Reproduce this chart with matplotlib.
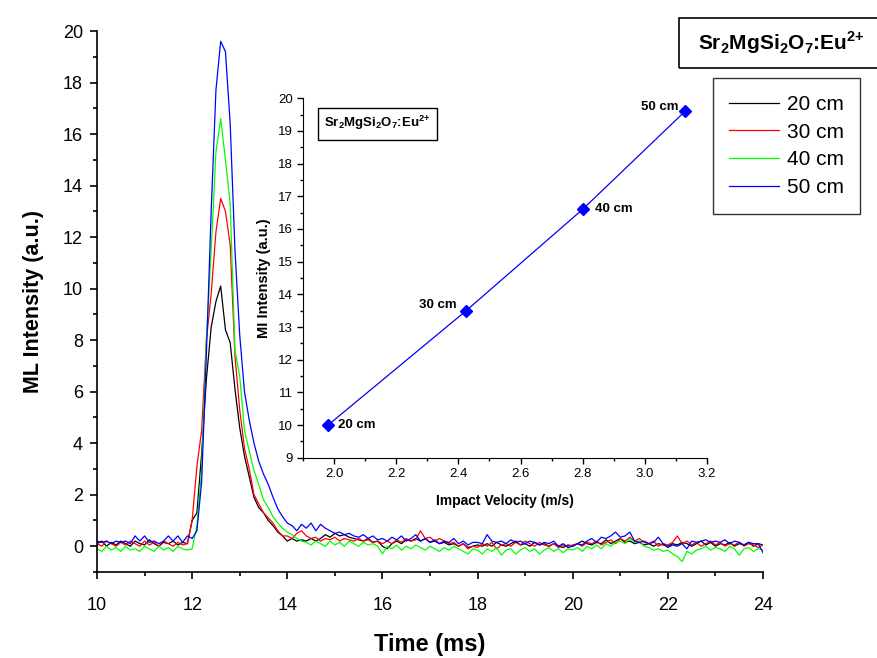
import numpy as np
import matplotlib
matplotlib.use("Agg")
import matplotlib.pyplot as plt
from matplotlib.patches import Rectangle
from matplotlib.ticker import MultipleLocator

plt.rcParams["font.family"] = ["Liberation Sans", "DejaVu Sans"]
plt.rcParams["mathtext.fontset"] = "custom"
plt.rcParams["mathtext.rm"] = "Liberation Sans"
plt.rcParams["mathtext.bf"] = "Liberation Sans:bold"

# ---- data: ML intensity vs time, sampled every 0.1 ms from 10 to 24 ms ----
time_ms = np.linspace(10, 24, 141)
heights = ["20 cm", "30 cm", "40 cm", "50 cm"]

ml_20cm = [
    0.1, 0.2, 0.0, 0.15, 0.05, 0.2, 0.1, 0.0, 0.2, 0.1,        # 10
    0.05, 0.25, 0.1, 0.0, 0.15, 0.1, 0.2, 0.05, 0.15, 0.1,     # 11
    1.0, 1.3, 3.6, 6.5, 8.5, 9.5, 10.1, 8.4, 7.9, 6.1,         # 12
    4.6, 3.5, 2.7, 1.9, 1.5, 1.3, 1.0, 0.8, 0.55, 0.4,         # 13
    0.2, 0.3, 0.2, 0.25, 0.2, 0.3, 0.2, 0.3, 0.45, 0.35,       # 14
    0.5, 0.4, 0.45, 0.35, 0.3, 0.25, 0.2, 0.3, 0.15, 0.2,      # 15
    0.0, -0.1, 0.1, 0.2, 0.1, 0.25, 0.2, 0.3, 0.2, 0.3,        # 16
    0.15, 0.2, 0.1, 0.15, 0.05, 0.1, 0.0, 0.1, -0.05, 0.0,     # 17
    0.05, 0.0, 0.1, 0.0, 0.15, 0.05, 0.0, 0.1, 0.2, 0.05,      # 18
    0.1, 0.0, 0.15, 0.05, 0.1, 0.0, 0.1, 0.0, -0.05, 0.05,     # 19
    0.0, 0.1, 0.2, 0.1, 0.05, 0.15, 0.1, 0.25, 0.1, 0.2,       # 20
    0.3, 0.15, 0.2, 0.1, 0.15, 0.05, 0.1, 0.0, 0.1, 0.05,      # 21
    0.0, 0.1, 0.05, 0.15, 0.1, 0.0, 0.1, 0.2, 0.05, 0.15,      # 22
    0.0, 0.1, 0.05, 0.15, 0.0, 0.1, 0.05, 0.15, 0.0, 0.1,      # 23
    0.05,
]
ml_30cm = [
    0.1, 0.0, 0.2, 0.1, 0.0, 0.15, 0.05, 0.2, 0.1, 0.0,
    0.2, 0.05, 0.15, 0.0, 0.2, 0.1, 0.0, 0.15, 0.05, 0.1,
    1.0, 3.1, 4.5, 8.0, 9.8, 12.2, 13.5, 13.0, 11.7, 7.4,
    5.3, 3.8, 3.0, 2.0, 1.65, 1.3, 1.1, 0.9, 0.6, 0.4,
    0.4, 0.3, 0.5, 0.6, 0.4, 0.3, 0.35, 0.2, 0.3, 0.25,
    0.35, 0.2, 0.3, 0.25, 0.2, 0.3, 0.2, 0.25, 0.15, 0.2,
    0.1, 0.2, 0.1, 0.25, 0.15, 0.3, 0.2, 0.25, 0.6, 0.3,
    0.35, 0.2, 0.3, 0.2, 0.1, 0.15, 0.0, 0.1, -0.1, 0.0,
    -0.05, 0.1, 0.0, 0.15, -0.1, 0.05, 0.1, 0.0, 0.15, 0.05,
    0.2, 0.1, 0.0, 0.15, 0.05, 0.0, 0.1, -0.05, 0.05, 0.0,
    0.05, 0.1, 0.0, 0.15, 0.1, 0.2, 0.05, 0.15, 0.25, 0.1,
    0.3, 0.2, 0.35, 0.2, 0.3, 0.15, 0.1, 0.2, 0.0, 0.1,
    0.05, 0.15, 0.4, 0.1, 0.2, 0.05, 0.15, 0.0, 0.1, 0.2,
    0.05, 0.15, 0.0, 0.1, 0.05, 0.15, 0.0, 0.1, 0.05, -0.05,
    0.05,
]
ml_40cm = [
    -0.1, -0.2, 0.0, -0.15, -0.05, -0.2, 0.0, -0.15, -0.1, -0.2,
    0.0, -0.1, -0.2, 0.0, -0.15, -0.05, -0.2, 0.0, -0.1, -0.15,
    -0.1, 0.8, 3.0, 8.0, 11.5, 15.3, 16.6, 15.0, 13.3, 7.6,
    6.6, 4.5, 3.7, 2.95, 2.4, 1.8, 1.5, 1.15, 0.9, 0.7,
    0.55, 0.45, 0.3, 0.2, 0.15, 0.05, 0.2, 0.1, 0.0, 0.2,
    0.05, 0.15, 0.0, 0.2, 0.1, 0.0, 0.15, 0.05, 0.1, 0.0,
    -0.3, 0.0, -0.1, 0.05, -0.15, 0.0, -0.1, 0.05, -0.05, -0.15,
    0.0, -0.1, -0.2, -0.05, -0.15, 0.0, -0.1, -0.2, -0.3, -0.1,
    -0.15, -0.3, -0.1, -0.2, -0.05, -0.35, -0.15, -0.1, -0.3, -0.15,
    -0.05, -0.2, -0.1, -0.3, -0.15, -0.05, -0.2, -0.1, -0.25, -0.1,
    -0.15, -0.05, -0.2, 0.0, -0.1, 0.05, -0.1, 0.1, 0.0, 0.15,
    0.2, 0.1, 0.3, 0.15, 0.2, 0.0, -0.05, -0.15, -0.1, -0.2,
    -0.15, -0.3, -0.4, -0.6, -0.2, -0.3, -0.15, -0.1, 0.0, -0.15,
    -0.05, -0.1, -0.2, 0.0, -0.1, -0.35, -0.1, -0.05, -0.2, -0.1,
    -0.15,
]
ml_50cm = [
    0.2, 0.15, 0.2, 0.1, 0.2, 0.15, 0.2, 0.1, 0.4, 0.2,
    0.4, 0.15, 0.2, 0.1, 0.2, 0.4, 0.2, 0.4, 0.15, 0.4,
    0.3, 0.6, 2.5, 7.5, 13.0, 17.7, 19.6, 19.2, 16.4, 11.5,
    8.2, 6.0, 4.9, 4.0, 3.3, 2.8, 2.4, 1.9, 1.45, 1.15,
    0.9, 0.8, 0.6, 0.85, 0.7, 0.9, 0.6, 0.85, 0.7, 0.6,
    0.5, 0.55, 0.45, 0.5, 0.4, 0.35, 0.45, 0.3, 0.4, 0.25,
    0.3, 0.2, 0.35, 0.25, 0.4, 0.2, 0.3, 0.45, 0.2, 0.3,
    0.15, 0.25, 0.1, 0.2, 0.15, 0.3, 0.1, 0.2, 0.05, 0.15,
    0.15, 0.1, 0.45, 0.2, 0.15, 0.2, 0.1, 0.25, 0.15, 0.2,
    0.1, 0.2, 0.15, 0.05, 0.15, 0.1, 0.2, 0.0, 0.1, -0.05,
    0.0, 0.1, 0.05, 0.2, 0.3, 0.15, 0.35, 0.3, 0.4, 0.55,
    0.35, 0.4, 0.55, 0.2, 0.15, 0.2, 0.1, 0.15, 0.35, 0.1,
    -0.05, 0.05, 0.0, 0.1, -0.1, 0.2, 0.15, 0.2, 0.25, 0.15,
    0.2, 0.15, 0.25, 0.1, 0.2, 0.15, 0.05, 0.15, 0.1, 0.1,
    -0.25,
]
series = [ml_20cm, ml_30cm, ml_40cm, ml_50cm]
colors = ["#000000", "#ff0000", "#00ff00", "#0000ff"]

# inset: peak ML intensity vs impact velocity
velocity = [1.98, 2.425, 2.80, 3.13]
peak_ml = [10.0, 13.5, 16.6, 19.6]

W, H = 877, 658
fig = plt.figure(figsize=(W / 100, H / 100), dpi=100)


def fbox(x0, y0, x1, y1):
    # pixel box (top-left origin) -> figure fraction rect
    return [x0 / W, 1 - y1 / H, (x1 - x0) / W, (y1 - y0) / H]


formula = r"Sr$_\mathbf{2}$MgSi$_\mathbf{2}$O$_\mathbf{7}$:Eu$^{\mathbf{2}\mathbf{{+}}}$"

ax = fig.add_axes(fbox(97, 31, 763, 572))
for y, c, lab in zip(series, colors, heights):
    ax.plot(time_ms, y, c=c, lw=0.9, label=lab)
ax.set_xlim(10, 24)
ax.set_ylim(-1, 20)
ax.xaxis.set_major_locator(MultipleLocator(2))
ax.xaxis.set_minor_locator(MultipleLocator(1))
ax.yaxis.set_major_locator(MultipleLocator(2))
ax.yaxis.set_minor_locator(MultipleLocator(1))
for s in ("top", "right"):
    ax.spines[s].set_visible(False)
for s in ("left", "bottom"):
    ax.spines[s].set_linewidth(1.2)
ax.tick_params(which="major", direction="out", length=5, width=1.2, labelsize=13)
ax.tick_params(which="minor", direction="out", length=3, width=1.2)
ax.tick_params(axis="x", which="major", pad=13)
ax.tick_params(axis="y", which="major", pad=5)
ax.set_xlabel("Time (ms)", fontsize=17, fontweight="bold", va="center")
ax.set_ylabel("ML Intensity (a.u.)", fontsize=15.5, fontweight="bold", va="center")
ax.xaxis.set_label_coords(0.5, -(645 - 572) / 541)
ax.yaxis.set_label_coords(-(97 - 33) / 666, 0.5)

leg = ax.legend(loc="upper left", bbox_to_anchor=(712.7 / W, 1 - 78.3 / H),
                bbox_transform=fig.transFigure, borderaxespad=0, fontsize=15,
                handlelength=2.4, handletextpad=0.35, labelspacing=0.42,
                borderpad=0.8, fancybox=False, edgecolor="#333333", framealpha=1)
leg.get_frame().set_linewidth(1.0)

# main compound label box, running off the right edge
fig.add_artist(Rectangle((679 / W, 1 - 68 / H), 0.3, 50 / H, transform=fig.transFigure,
                         fill=False, ec="black", lw=1.2))
fig.text(781 / W, 1 - 43 / H, formula, ha="center", va="center",
         fontsize=15, fontweight="bold")

# ---- inset ----
ai = fig.add_axes(fbox(303.3, 98.3, 706.7, 457.7))
ai.plot(velocity, peak_ml, c="#0000ff", lw=0.9, marker="D", ms=6, mfc="#0000ff", mec="#0000ff")
ai.set_xlim(1.9, 3.2)
ai.set_ylim(9, 20)
ai.xaxis.set_major_locator(MultipleLocator(0.2))
ai.xaxis.set_minor_locator(MultipleLocator(0.1))
ai.yaxis.set_major_locator(MultipleLocator(1))
ai.yaxis.set_minor_locator(MultipleLocator(0.5))
ai.xaxis.set_major_formatter(plt.FormatStrFormatter("%.1f"))
for s in ("top", "right"):
    ai.spines[s].set_visible(False)
ai.tick_params(which="major", direction="out", length=4.5, width=1, labelsize=9.5, pad=3)
ai.tick_params(which="minor", direction="out", length=2.5, width=1)
ai.set_xlabel("Impact Velocity (m/s)", fontsize=10, fontweight="bold", va="center")
ai.set_ylabel("MI Intensity (a.u.)", fontsize=10.5, fontweight="bold", va="center")
ai.xaxis.set_label_coords(0.5, -(500.7 - 457.7) / 359.4)
ai.yaxis.set_label_coords(-(303.3 - 264) / 403.4, 0.5)

offsets = [(7, 0, "left"), (-7, 4, "right"), (9, 0, "left"), (-5, 3, "right")]
for v, p, lab, (dx, dy, ha) in zip(velocity, peak_ml, heights, offsets):
    ai.annotate(lab, (v, p), xytext=(dx, dy), textcoords="offset points",
                ha=ha, va="center", fontsize=9.5, fontweight="bold")

fig.add_artist(Rectangle((317.7 / W, 1 - 140 / H), (437.3 - 317.7) / W, 32 / H,
                         transform=fig.transFigure, fill=False, ec="black", lw=1))
fig.text(377.5 / W, 1 - 123 / H, formula, ha="center", va="center",
         fontsize=9.5, fontweight="bold")

fig.savefig("out.png", dpi=100)
